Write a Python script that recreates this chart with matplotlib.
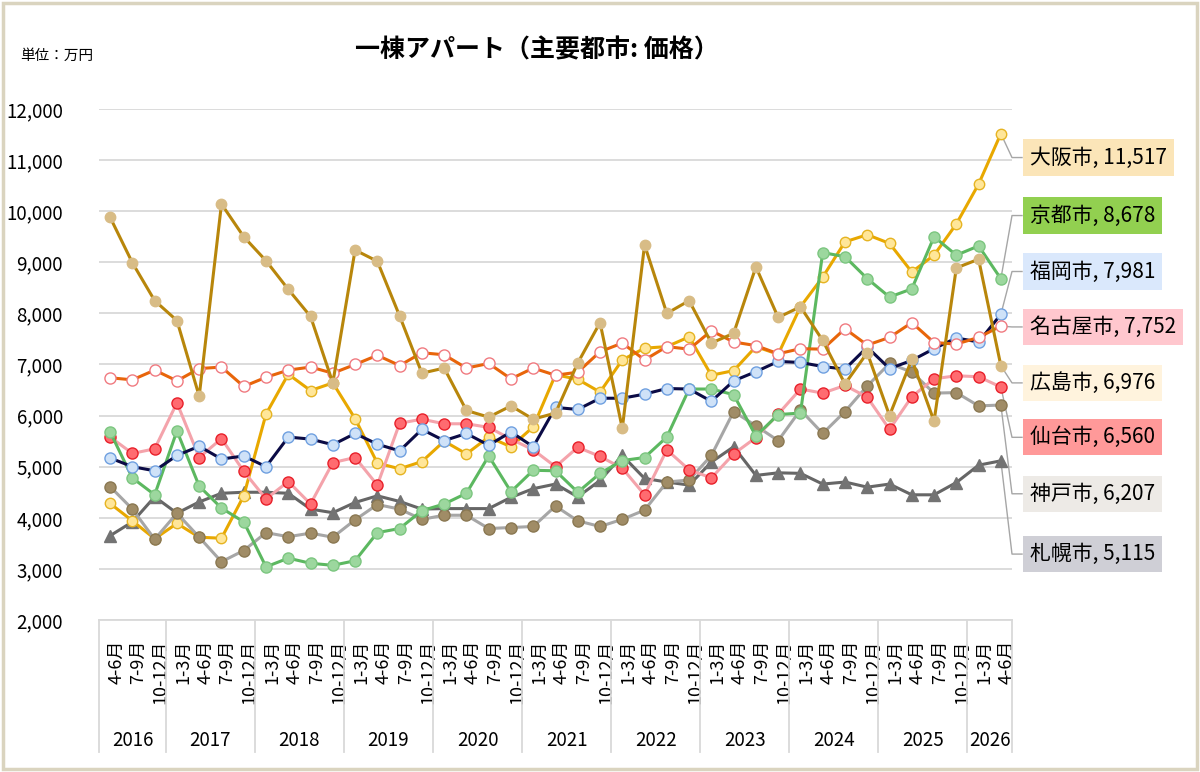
import matplotlib
matplotlib.use("Agg")
import matplotlib.pyplot as plt
import matplotlib.transforms as mtransforms
from matplotlib.patches import Rectangle

plt.rcParams["font.family"] = ["Noto Sans CJK JP", "DejaVu Sans"]

# 四半期ラベル
quarters = (["4-6月", "7-9月", "10-12月"]
            + ["1-3月", "4-6月", "7-9月", "10-12月"] * 9
            + ["1-3月", "4-6月"])
years = ["2016", "2017", "2018", "2019", "2020", "2021",
         "2022", "2023", "2024", "2025", "2026"]
year_counts = [3, 4, 4, 4, 4, 4, 4, 4, 4, 4, 2]

# 各都市の価格（万円）
sapporo = [3650, 3920, 4410, 4090, 4310, 4480, 4500, 4500, 4480, 4170,
           4100, 4300, 4430, 4320, 4170, 4180, 4180, 4180, 4400, 4570,
           4660, 4410, 4730, 5220, 4770, 4700, 4640, 5090, 5390, 4830,
           4880, 4870, 4660, 4700, 4600, 4660, 4450, 4450, 4690, 5030, 5115]
osaka = [4280, 3940, 3590, 3890, 3620, 3600, 4430, 6030, 6810, 6490,
         6640, 5940, 5070, 4960, 5100, 5500, 5250, 5580, 5390, 5780,
         6800, 6710, 6460, 7090, 7320, 7350, 7540, 6790, 6880, 7350,
         7200, 8130, 8710, 9400, 9540, 9370, 8810, 9140, 9750, 10530, 11517]
kobe = [4610, 4170, 3580, 4090, 3620, 3140, 3360, 3710, 3630, 3700,
        3620, 3960, 4260, 4170, 3970, 4050, 4050, 3790, 3810, 3830,
        4230, 3940, 3830, 3970, 4150, 4700, 4740, 5220, 6080, 5800,
        5510, 6110, 5650, 6080, 6580, 7020, 6850, 6440, 6450, 6190, 6207]
sendai = [5580, 5260, 5350, 6250, 5180, 5550, 4910, 4370, 4710, 4270,
          5080, 5180, 4640, 5850, 5930, 5840, 5840, 5770, 5540, 5330,
          5000, 5380, 5200, 4970, 4450, 5330, 4940, 4780, 5250, 5570,
          6030, 6520, 6440, 6590, 6360, 5730, 6370, 6720, 6780, 6760, 6560]
kyoto = [5680, 4780, 4450, 5700, 4620, 4190, 3920, 3040, 3210, 3110,
         3070, 3160, 3710, 3790, 4140, 4270, 4480, 5210, 4510, 4930,
         4920, 4500, 4870, 5120, 5180, 5580, 6520, 6520, 6410, 5600,
         6020, 6050, 9190, 9110, 8680, 8320, 8480, 9500, 9140, 9320, 8678]
fukuoka = [5170, 5000, 4920, 5220, 5400, 5150, 5210, 5000, 5580, 5540,
           5430, 5650, 5440, 5310, 5730, 5510, 5650, 5420, 5680, 5390,
           6160, 6120, 6340, 6340, 6420, 6530, 6520, 6280, 6680, 6860,
           7060, 7040, 6960, 6910, 7340, 6920, 7080, 7310, 7520, 7440, 7981]
nagoya = [6740, 6700, 6890, 6680, 6920, 6950, 6570, 6750, 6890, 6950,
          6830, 7000, 7180, 6980, 7230, 7190, 6930, 7020, 6720, 6930,
          6790, 6850, 7250, 7420, 7090, 7350, 7300, 7660, 7440, 7370,
          7210, 7310, 7300, 7700, 7380, 7530, 7820, 7430, 7400, 7530, 7752]
hiroshima = [9880, 8990, 8250, 7860, 6380, 10140, 9500, 9030, 8470, 7940,
             6640, 9240, 9020, 7950, 6830, 6930, 6100, 5970, 6190, 5930,
             6050, 7030, 7820, 5750, 9340, 8000, 8250, 7420, 7610, 8910,
             7920, 8130, 7470, 6620, 7230, 6000, 7100, 5890, 8890, 9060, 6976]

cities = ["札幌市", "大阪市", "神戸市", "仙台市", "京都市", "福岡市", "名古屋市", "広島市"]
values = [sapporo, osaka, kobe, sendai, kyoto, fukuoka, nagoya, hiroshima]

styles = {
    "札幌市": dict(color="#666666", marker="^", ms=9, mfc="#737373", mec="#737373"),
    "大阪市": dict(color="#E8A800", marker="o", ms=7.5, mfc="#FFE699", mec="#E6B422"),
    "神戸市": dict(color="#A6A6A6", marker="o", ms=8, mfc="#A08C66", mec="#8A7852"),
    "仙台市": dict(color="#F4A3AB", marker="o", ms=8, mfc="#FF6B70", mec="#E8202A"),
    "京都市": dict(color="#5CB860", marker="o", ms=8, mfc="#9CD79E", mec="#7CC680"),
    "福岡市": dict(color="#0B0B45", marker="o", ms=8, mfc="#CFE2F8", mec="#6FA0E0"),
    "名古屋市": dict(color="#E8650A", marker="o", ms=8, mfc="white", mec="#F07A80"),
    "広島市": dict(color="#B8860B", marker="o", ms=7.5, mfc="#D8BC86", mec="#D8BC86"),
}

# 右側ラベル（上から順）
label_order = ["大阪市", "京都市", "福岡市", "名古屋市", "広島市", "仙台市", "神戸市", "札幌市"]
label_y = [11050, 9915, 8820, 7735, 6640, 5575, 4470, 3290]
label_bg = ["#FBE5B8", "#92D050", "#DAE8FC", "#FFC7CE", "#FFF3DD", "#FF9999", "#EDEAE6", "#CFCFD6"]

fig = plt.figure(figsize=(12, 7.72), dpi=100)
fig.patches.append(Rectangle((3 / 1200, 3 / 772), 1194 / 1200, 766 / 772,
                             transform=fig.transFigure, fill=False,
                             edgecolor="#DAD4BF", linewidth=2.5))

ax = fig.add_axes([99 / 1200, 1 - 620 / 772, 913 / 1200, 511 / 772])
x = list(range(len(quarters)))

for i, (city, vals) in enumerate(zip(cities, values)):
    st = styles[city]
    ax.plot(x, vals, color=st["color"], lw=2.2, marker=st["marker"], ms=st["ms"],
            markerfacecolor=st["mfc"], markeredgecolor=st["mec"], markeredgewidth=1,
            zorder=3 + i, clip_on=False)

ax.set_xlim(-0.5, len(quarters) - 0.5)
ax.set_ylim(2000, 12000)
ax.set_yticks(range(2000, 12001, 1000))
ax.set_yticklabels([f"{v:,}" for v in range(2000, 12001, 1000)], fontsize=13.5)
ax.yaxis.grid(True, color="#D9D9D9", lw=1.3)
ax.set_axisbelow(True)
for s in ["top", "right", "left"]:
    ax.spines[s].set_visible(False)
ax.spines["bottom"].set_color("#D9D9D9")
ax.spines["bottom"].set_linewidth(1.3)
ax.tick_params(axis="y", length=0, pad=26)
ax.tick_params(axis="x", length=0, pad=14)

ax.set_xticks(x)
ax.set_xticklabels(quarters, rotation=90, fontsize=13, va="top", ha="center")
offset = mtransforms.ScaledTranslation(0.06, 0, fig.dpi_scale_trans)
for lbl in ax.get_xticklabels():
    lbl.set_transform(lbl.get_transform() + offset)

# 年の区切りと年ラベル
trans = mtransforms.blended_transform_factory(ax.transData, ax.transAxes)
sep_bottom = -(752 - 620) / 511
start = -0.5
bounds = [start]
for n in year_counts:
    start += n
    bounds.append(start)
for b in bounds:
    ax.plot([b, b], [0, sep_bottom], transform=trans, color="#D9D9D9", lw=1.3, clip_on=False)
for yr, b0, b1 in zip(years, bounds[:-1], bounds[1:]):
    ax.text((b0 + b1) / 2, -(740 - 620) / 511, yr, transform=trans,
            ha="center", va="center", fontsize=13.5)

# 末尾の値ラベル
last = {c: v[-1] for c, v in zip(cities, values)}
x_elbow = len(quarters) - 0.5
for city, ly, bg in zip(label_order, label_y, label_bg):
    v = last[city]
    ax.plot([x[-1], x_elbow, x_elbow + 0.45], [v, ly, ly], color="#A6A6A6", lw=1,
            clip_on=False, zorder=2)
    ax.text(x_elbow + 0.8, ly, f"{city}, {v:,}", ha="left", va="center", fontsize=15,
            bbox=dict(boxstyle="square,pad=0.34", facecolor=bg, edgecolor="none"))

fig.text(537 / 1200, 1 - 50 / 772, "一棟アパート（主要都市: 価格）", ha="center", va="center",
         fontsize=18, fontweight="bold")
fig.text(20 / 1200, 1 - 56 / 772, "単位：万円", ha="left", va="center", fontsize=10.5)

fig.savefig("out.png", dpi=100, facecolor="white")
